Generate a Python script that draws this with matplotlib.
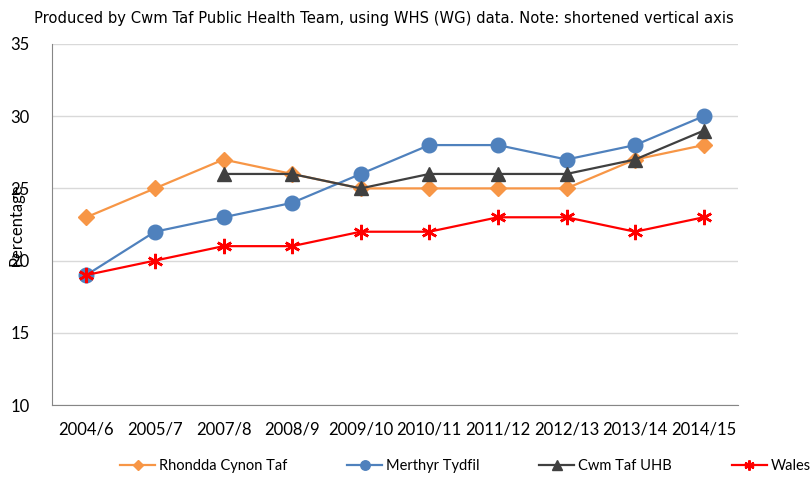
import matplotlib
matplotlib.use('Agg')
import matplotlib.pyplot as plt
import numpy as np

years = ['2004/6', '2005/7', '2007/8', '2008/9', '2009/10', '2010/11', '2011/12', '2012/13', '2013/14', '2014/15']
rhondda = [23, 25, 27, 26, 25, 25, 25, 25, 27, 28]
merthyr = [19, 22, 23, 24, 26, 28, 28, 27, 28, 30]
cwm_taf = [np.nan, np.nan, 26, 26, 25, 26, 26, 26, 27, 29]
wales = [19, 20, 21, 21, 22, 22, 23, 23, 22, 23]

plt.rcParams['font.family'] = ['Lato', 'DejaVu Sans']

fig = plt.figure(figsize=(8.11, 4.78), dpi=100)
ax = fig.add_axes([52/811, 1 - 405/478, 686/811, 361/478])

x = np.arange(len(years))
ax.plot(x, rhondda, color='#F79646', lw=1.6, marker='D', ms=8, label='Rhondda Cynon Taf')
ax.plot(x, merthyr, color='#4F81BD', lw=1.6, marker='o', ms=10.5, label='Merthyr Tydfil')
ax.plot(x, cwm_taf, color='#404040', lw=1.6, marker='^', ms=10, label='Cwm Taf UHB')
ax.plot(x, wales, color='#FF0000', lw=1.6, marker=(6, 2, 0), ms=11, mew=1.8, label='Wales')

ax.set_xlim(-0.5, len(years) - 0.5)
ax.set_ylim(10, 35)
ax.set_yticks([10, 15, 20, 25, 30, 35])
ax.set_xticks(x)
ax.set_xticklabels(years)
ax.tick_params(axis='both', length=0, labelsize=12, colors='black')
ax.tick_params(axis='x', pad=12)
ax.tick_params(axis='y', pad=16)
ax.grid(axis='y', color='#D9D9D9', lw=1)
ax.set_axisbelow(True)
for s in ['top', 'right']:
    ax.spines[s].set_visible(False)
ax.spines['left'].set_color('#868686')
ax.spines['bottom'].set_color('#868686')

# y label sits over the tick labels, same as the original
fig.text(17/811, 1 - 225/478, 'Percentage', rotation=90, fontsize=12, ha='center', va='center')
fig.text(384/811, 1 - 18/478, 'Produced by Cwm Taf Public Health Team, using WHS (WG) data. Note: shortened vertical axis',
         fontsize=10.6, ha='center', va='center', family=['DejaVu Sans'])

fig.legend(loc='center left', bbox_to_anchor=(120/811, 1 - 466/478), ncol=4, frameon=False,
           fontsize=10.5, handlelength=2.4, columnspacing=4.1, handletextpad=0.27, markerscale=0.65,
           borderpad=0, borderaxespad=0)

fig.savefig('out.png', dpi=100)
